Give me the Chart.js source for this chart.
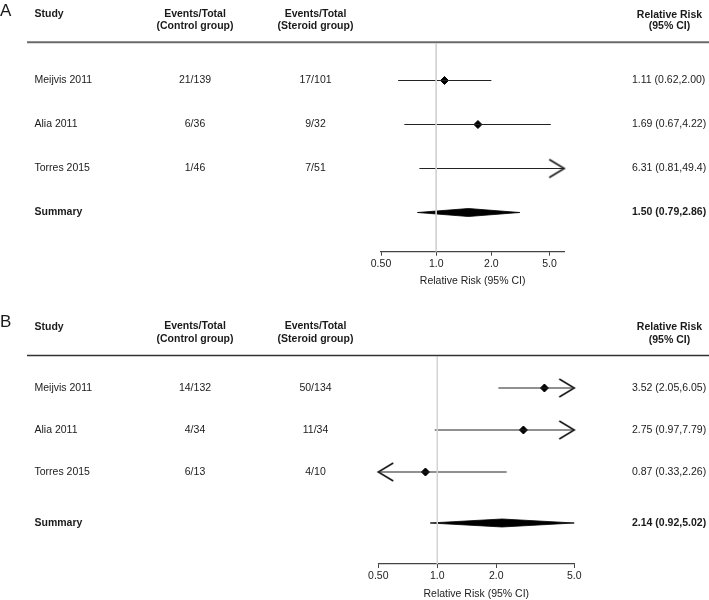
<!DOCTYPE html>
<html>
<head>
<meta charset="utf-8">
<script src="https://cdn.jsdelivr.net/npm/chart.js@4.4.1/dist/chart.umd.min.js"></script>
<style>
  html, body { margin: 0; padding: 0; background: #fff; overflow: hidden; }
  canvas { position: absolute; left: 0; }
</style>
</head>
<body>
<canvas id="panelA" width="709" height="290" style="top:0"></canvas>
<canvas id="panelB" width="709" height="310" style="top:290px"></canvas>
<script>
const FONT = "'Liberation Sans', Arial, Helvetica, sans-serif";

// shared
const studies = ['Meijvis 2011', 'Alia 2011', 'Torres 2015'];
const tickLabels = ['0.50', '1.0', '2.0', '5.0'];

// panel A
const controlA = ['21/139', '6/36', '1/46'];
const steroidA = ['17/101', '9/32', '7/51'];
const rrA = [1.11, 1.69, 6.31];
const lowA = [0.62, 0.67, 0.81];
const highA = [2.00, 4.22, 49.4];
const summaryA = [1.50, 0.79, 2.86]; // rr, low, high
const ticksA = [0.5, 1, 2, 4.15];    // the original puts its "5.0" label short of 5

// panel B
const controlB = ['14/132', '4/34', '6/13'];
const steroidB = ['50/134', '11/34', '4/10'];
const rrB = [3.52, 2.75, 0.87];
const lowB = [2.05, 0.97, 0.33];
const highB = [6.05, 7.79, 2.26];
const summaryB = [2.14, 0.92, 5.02];
const ticksB = [0.5, 1, 2, 5];

const X_MIN = 0.5, X_MAX = 5;
const DIAMOND_HALF = 4; // px, half height of summary diamond
const COL = { study: 34.5, control: 195, steroid: 315.5, rr: 632, rrHead: 669.5 };

const fmt = v => (v >= 10 ? v.toFixed(1) : v.toFixed(2));
const ciText = (r, l, h) => `${fmt(r)} (${fmt(l)},${fmt(h)})`;

// open chevron used where a CI runs off the axis
function makeArrow() {
  const c = document.createElement('canvas');
  c.width = 32; c.height = 22;
  const g = c.getContext('2d');
  g.strokeStyle = '#111';
  g.lineWidth = 1.5;
  g.beginPath();
  g.moveTo(1, 2); g.lineTo(16, 11); g.lineTo(1, 20);
  g.stroke();
  return c;
}
const arrowImg = makeArrow();

function drawTable(chart, p) {
  const ctx = chart.ctx;
  const ys = chart.scales.y;
  ctx.save();
  ctx.fillStyle = '#1a1a1a';
  ctx.textBaseline = 'middle';

  ctx.textAlign = 'left';
  ctx.font = `17px ${FONT}`;
  ctx.fillText(p.letter, 0, p.letterY);

  ctx.font = `bold 10.5px ${FONT}`;
  ctx.fillText('Study', COL.study, p.head1 + 0.5);
  ctx.textAlign = 'center';
  ctx.fillText('Events/Total', COL.control, p.head1);
  ctx.fillText('(Control group)', COL.control, p.head2);
  ctx.fillText('Events/Total', COL.steroid, p.head1);
  ctx.fillText('(Steroid group)', COL.steroid, p.head2);
  ctx.fillText('Relative Risk', COL.rrHead, p.head1 + 1);
  ctx.fillText('(95% CI)', COL.rrHead, p.head2 + 0.5);

  ctx.strokeStyle = p.ruleColor;
  ctx.lineWidth = p.ruleWidth;
  ctx.beginPath();
  ctx.moveTo(27, p.ruleY);
  ctx.lineTo(709, p.ruleY);
  ctx.stroke();

  ctx.font = `10.5px ${FONT}`;
  studies.forEach((name, i) => {
    const yy = ys.getPixelForValue(i + 1);
    ctx.textAlign = 'left';
    ctx.fillText(name, COL.study, yy);
    ctx.fillText(ciText(p.rr[i], p.low[i], p.high[i]), COL.rr, yy);
    ctx.textAlign = 'center';
    ctx.fillText(p.control[i], COL.control, yy);
    ctx.fillText(p.steroid[i], COL.steroid, yy);
  });

  const sy = ys.getPixelForValue(p.summaryRow);
  ctx.font = `bold 10.5px ${FONT}`;
  ctx.textAlign = 'left';
  ctx.fillText('Summary', COL.study, sy);
  ctx.fillText(ciText(p.summary[0], p.summary[1], p.summary[2]), COL.rr, sy);
  ctx.restore();
}

function forestPanel(canvasId, p) {
  const canvas = document.getElementById(canvasId);
  const yMin = 1 + (p.top - p.row1) / p.rowPx;
  const yMax = 1 + (p.bottom - p.row1) / p.rowPx;
  const rows = p.rr.map((_, i) => i + 1);

  const datasets = [];
  // no-effect line at RR = 1
  datasets.push({
    data: [{ x: 1, y: yMin }, { x: 1, y: yMax }],
    showLine: true, borderColor: '#d2d2d2', borderWidth: 1, pointRadius: 0, clip: 0
  });
  // confidence intervals
  rows.forEach((r, i) => {
    datasets.push({
      data: [{ x: p.low[i], y: r }, { x: p.high[i], y: r }],
      showLine: true, borderColor: '#222', borderWidth: 1.2, pointRadius: 0, clip: 0
    });
  });
  // point estimates
  datasets.push({
    data: rows.map((r, i) => ({ x: p.rr[i], y: r })).filter(d => d.x >= X_MIN && d.x <= X_MAX),
    pointStyle: 'rectRot', pointRadius: 4, backgroundColor: '#000', borderColor: '#000', borderWidth: 1
  });
  // arrows for intervals running off the axis
  const arrows = [];
  rows.forEach((r, i) => {
    if (p.high[i] > X_MAX) arrows.push({ x: X_MAX, y: r, rot: 0 });
    if (p.low[i] < X_MIN) arrows.push({ x: X_MIN, y: r, rot: 180 });
  });
  datasets.push({
    data: arrows, pointStyle: arrowImg, pointRadius: 8,
    rotation: ctx => (arrows[ctx.dataIndex] ? arrows[ctx.dataIndex].rot : 0),
    clip: false
  });
  // summary diamond
  const [s, sl, sh] = p.summary;
  const h = DIAMOND_HALF / p.rowPx;
  const sr = p.summaryRow;
  datasets.push({
    data: [{ x: sl, y: sr }, { x: s, y: sr - h }, { x: sh, y: sr }, { x: s, y: sr + h }, { x: sl, y: sr }],
    showLine: true, fill: 'shape', backgroundColor: '#000', borderColor: '#000',
    borderWidth: 0.8, pointRadius: 0, clip: 0
  });

  new Chart(canvas, {
    type: 'scatter',
    data: { datasets },
    options: {
      responsive: false,
      animation: false,
      events: [],
      layout: { padding: { left: p.left, right: 709 - p.right, top: p.top, bottom: p.padBottom } },
      plugins: { legend: { display: false }, tooltip: { enabled: false } },
      scales: {
        x: {
          type: 'logarithmic', min: X_MIN, max: X_MAX,
          afterBuildTicks: sc => { sc.ticks = p.ticks.map(v => ({ value: v })); },
          ticks: {
            callback: (v, i) => tickLabels[i],
            color: '#222', padding: 2, maxRotation: 0, autoSkip: false,
            font: { family: FONT, size: 10.5, lineHeight: 1.2 }
          },
          grid: { display: true, drawOnChartArea: false, drawTicks: true, tickLength: 4, color: '#444', lineWidth: 1 },
          border: { display: true, color: '#444', width: 1.2 },
          title: {
            display: true, text: 'Relative Risk (95% CI)', color: '#222',
            font: { family: FONT, size: 10.5, lineHeight: 1 }, padding: { top: 4, bottom: 0 }
          }
        },
        y: { display: false, reverse: true, min: yMin, max: yMax }
      }
    },
    plugins: [{ id: 'forestTable', afterDraw: chart => drawTable(chart, p) }]
  });
}

forestPanel('panelA', {
  letter: 'A', letterY: 11, head1: 14, head2: 26, ruleY: 42.3, ruleColor: '#6a6a6a', ruleWidth: 2,
  top: 43.5, bottom: 251.7, left: 381, right: 564.3, padBottom: 3.2,
  row1: 80.5, rowPx: 44, summaryRow: 4,
  control: controlA, steroid: steroidA, rr: rrA, low: lowA, high: highA, summary: summaryA, ticks: ticksA
});

forestPanel('panelB', {
  letter: 'B', letterY: 32.5, head1: 36.5, head2: 49.5, ruleY: 65.5, ruleColor: '#333', ruleWidth: 1.5,
  top: 66.5, bottom: 274, left: 378.3, right: 574.3, padBottom: 0.9,
  row1: 98, rowPx: 42, summaryRow: 4.214,
  control: controlB, steroid: steroidB, rr: rrB, low: lowB, high: highB, summary: summaryB, ticks: ticksB
});
</script>
</body>
</html>
